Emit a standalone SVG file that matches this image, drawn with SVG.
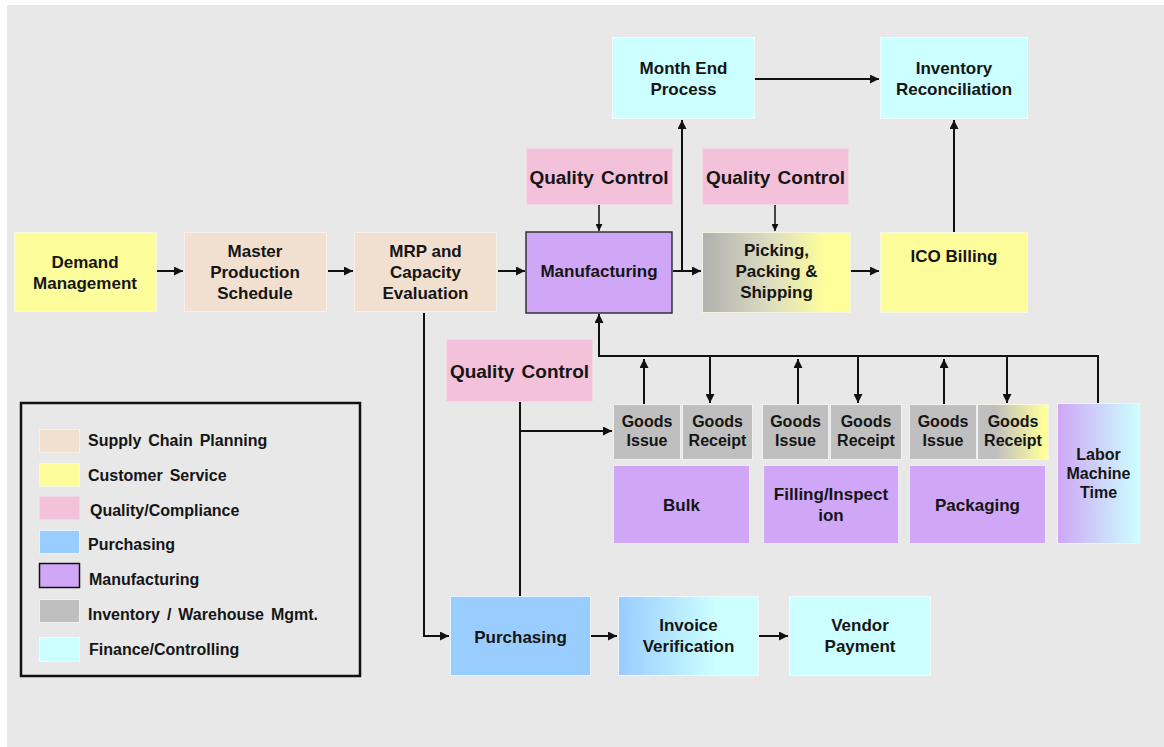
<svg xmlns="http://www.w3.org/2000/svg" width="1164" height="747" viewBox="0 0 1164 747">
<style>
text{font-family:"Liberation Sans",Arial,sans-serif;font-weight:bold;fill:#151515;text-anchor:middle}
.t17{font-size:17px}
.t19{font-size:19px;word-spacing:2px}
.t16{font-size:16px}
.lg{font-size:16px;text-anchor:start;word-spacing:2.5px}
.tan{fill:#f1dfcf;stroke:#f7f1ea;stroke-width:1}
.yel{fill:#fdfd9c;stroke:#f8f8e0;stroke-width:1}
.pink{fill:#f4c1da;stroke:#f0d8e4;stroke-width:1}
.blue{fill:#99ccff;stroke:#e8f2fc;stroke-width:1}
.purp{fill:#d0a7f7;stroke:#f0e6fa;stroke-width:1}
.gray{fill:#bfbfbf;stroke:#f0f0f0;stroke-width:1}
.cyan{fill:#ccffff;stroke:#f0fcfc;stroke-width:1}
.conn path{fill:none;stroke:#111;stroke-width:2}
.conn path.thin{stroke-width:1.5}
</style>
<defs>
<marker id="ah" viewBox="0 0 10 10" refX="10" refY="5" markerWidth="10" markerHeight="9" markerUnits="userSpaceOnUse" orient="auto"><path d="M0,0 L10,5 L0,10 z" fill="#111"/></marker>
<marker id="as" viewBox="0 0 10 10" refX="10" refY="5" markerWidth="8" markerHeight="7" markerUnits="userSpaceOnUse" orient="auto"><path d="M0,0 L10,5 L0,10 z" fill="#111"/></marker>
<linearGradient id="gPick" x1="0" y1="0" x2="1" y2="0"><stop offset="0" stop-color="#b0b0b0"/><stop offset="0.45" stop-color="#dcdcc0"/><stop offset="0.85" stop-color="#ffff99"/></linearGradient>
<linearGradient id="gGR" x1="0" y1="0" x2="1" y2="0"><stop offset="0.25" stop-color="#bfbfbf"/><stop offset="0.95" stop-color="#ffff99"/></linearGradient>
<linearGradient id="gLab" x1="0" y1="0" x2="1" y2="0"><stop offset="0" stop-color="#cfa6f6"/><stop offset="1" stop-color="#ccffff"/></linearGradient>
<linearGradient id="gInv" x1="0" y1="0" x2="1" y2="0"><stop offset="0" stop-color="#99ccff"/><stop offset="0.7" stop-color="#ccffff"/></linearGradient>
</defs>
<rect x="0" y="0" width="1164" height="747" fill="#ffffff"/>
<rect x="7" y="5" width="1157" height="742" fill="#e8e8e8"/>

<g id="connectors" class="conn">
<path d="M157,271 H183" marker-end="url(#ah)"/>
<path d="M328,271 H353" marker-end="url(#ah)"/>
<path d="M498,271 H525" marker-end="url(#ah)"/>
<path d="M673,271 H701" marker-end="url(#ah)"/>
<path d="M682,271 V120" marker-end="url(#ah)"/>
<path d="M755,79 H879" marker-end="url(#ah)"/>
<path d="M851,271 H879" marker-end="url(#ah)"/>
<path d="M954,232 V120" marker-end="url(#ah)"/>
<path class="thin" d="M599,205 V231" marker-end="url(#as)"/>
<path class="thin" d="M775,205 V231" marker-end="url(#as)"/>
<path d="M424,313 V636 H449" marker-end="url(#ah)"/>
<path d="M1098,403 V356 H599 V314" marker-end="url(#ah)"/>
<path d="M644,404 V359" marker-end="url(#ah)"/>
<path d="M710,356 V403" marker-end="url(#ah)"/>
<path d="M798,404 V359" marker-end="url(#ah)"/>
<path d="M858,356 V403" marker-end="url(#ah)"/>
<path d="M944,404 V359" marker-end="url(#ah)"/>
<path d="M1007,356 V403" marker-end="url(#ah)"/>
<path d="M520,402 V596"/>
<path d="M520,431 H612" marker-end="url(#ah)"/>
<path d="M591,636 H617" marker-end="url(#ah)"/>
<path d="M759,636 H788" marker-end="url(#ah)"/>
</g>

<g id="demand"><rect class="yel" x="14.5" y="232.5" width="142" height="79"/><text class="t17" x="85" y="268">Demand</text><text class="t17" x="85" y="289">Management</text></g>
<g id="mps"><rect class="tan" x="184.5" y="232.5" width="142" height="79"/><text class="t17" x="255" y="257">Master</text><text class="t17" x="255" y="278">Production</text><text class="t17" x="255" y="299">Schedule</text></g>
<g id="mrp"><rect class="tan" x="354.5" y="232.5" width="142" height="79"/><text class="t17" x="425.5" y="257">MRP and</text><text class="t17" x="425.5" y="278">Capacity</text><text class="t17" x="425.5" y="299">Evaluation</text></g>
<g id="manufacturing"><rect x="526" y="232" width="146" height="81" fill="#d0a7f7" stroke="#333" stroke-width="1.5"/><text class="t17" x="599" y="277">Manufacturing</text></g>
<g id="qc1"><rect class="pink" x="526.5" y="148.5" width="146" height="56"/><text class="t19" x="599" y="184">Quality Control</text></g>
<g id="qc2"><rect class="pink" x="702.5" y="148.5" width="146" height="56"/><text class="t19" x="775.5" y="184">Quality Control</text></g>
<g id="picking"><rect x="702.5" y="232.5" width="148" height="80" fill="url(#gPick)" stroke="#f4f4e4" stroke-width="1"/><text class="t17" x="776.5" y="256">Picking,</text><text class="t17" x="776.5" y="277">Packing &amp;</text><text class="t17" x="776.5" y="298">Shipping</text></g>
<g id="ico"><rect class="yel" x="880.5" y="232.5" width="147" height="80"/><text class="t17" x="954" y="262">ICO Billing</text></g>
<g id="monthend"><rect class="cyan" x="612.5" y="37.5" width="142" height="81"/><text class="t17" x="683.5" y="74">Month End</text><text class="t17" x="683.5" y="95">Process</text></g>
<g id="invrec"><rect class="cyan" x="880.5" y="37.5" width="147" height="81"/><text class="t17" x="954" y="74">Inventory</text><text class="t17" x="954" y="95">Reconciliation</text></g>
<g id="qc3"><rect class="pink" x="446.5" y="339.5" width="146" height="62"/><text class="t19" x="519.5" y="378">Quality Control</text></g>

<g id="bulk-gi"><rect class="gray" x="613.5" y="404.5" width="67" height="55"/><text class="t16" x="647" y="427">Goods</text><text class="t16" x="647" y="446">Issue</text></g>
<g id="bulk-gr"><rect class="gray" x="682.5" y="404.5" width="70" height="55"/><text class="t16" x="717.5" y="427">Goods</text><text class="t16" x="717.5" y="446">Receipt</text></g>
<g id="fill-gi"><rect class="gray" x="762.5" y="404.5" width="66" height="55"/><text class="t16" x="795.5" y="427">Goods</text><text class="t16" x="795.5" y="446">Issue</text></g>
<g id="fill-gr"><rect class="gray" x="830.5" y="404.5" width="71" height="55"/><text class="t16" x="866" y="427">Goods</text><text class="t16" x="866" y="446">Receipt</text></g>
<g id="pack-gi"><rect class="gray" x="909.5" y="404.5" width="67" height="55"/><text class="t16" x="943" y="427">Goods</text><text class="t16" x="943" y="446">Issue</text></g>
<g id="pack-gr"><rect x="977.5" y="404.5" width="71" height="55" fill="url(#gGR)" stroke="#f4f4e4" stroke-width="1"/><text class="t16" x="1013" y="427">Goods</text><text class="t16" x="1013" y="446">Receipt</text></g>
<g id="labor"><rect x="1057.5" y="403.5" width="82" height="140" fill="url(#gLab)" stroke="#f0f4fa" stroke-width="1"/><text class="t16" x="1098.5" y="460">Labor</text><text class="t16" x="1098.5" y="479">Machine</text><text class="t16" x="1098.5" y="498">Time</text></g>
<g id="bulk"><rect class="purp" x="613.5" y="465.5" width="136" height="78"/><text class="t17" x="681.5" y="511">Bulk</text></g>
<g id="filling"><rect class="purp" x="763.5" y="465.5" width="135" height="78"/><text class="t17" x="831" y="500">Filling/Inspect</text><text class="t17" x="831" y="521">ion</text></g>
<g id="packaging"><rect class="purp" x="909.5" y="465.5" width="136" height="78"/><text class="t17" x="977.5" y="511">Packaging</text></g>

<g id="purchasing"><rect class="blue" x="450.5" y="596.5" width="140" height="79"/><text class="t17" x="520.5" y="643">Purchasing</text></g>
<g id="invoice"><rect x="618.5" y="596.5" width="140" height="79" fill="url(#gInv)" stroke="#eef6fc" stroke-width="1"/><text class="t17" x="688.5" y="631">Invoice</text><text class="t17" x="688.5" y="652">Verification</text></g>
<g id="vendor"><rect class="cyan" x="789.5" y="596.5" width="141" height="79"/><text class="t17" x="860" y="631">Vendor</text><text class="t17" x="860" y="652">Payment</text></g>

<g id="legend">
<rect x="21" y="403" width="339" height="273" fill="none" stroke="#111" stroke-width="2.5"/>
<rect class="tan" x="39.5" y="429.5" width="40" height="23"/><text class="lg" x="88" y="446">Supply Chain Planning</text>
<rect class="yel" x="39.5" y="463.5" width="40" height="23"/><text class="lg" x="88" y="481">Customer Service</text>
<rect class="pink" x="39.5" y="496.5" width="40" height="23"/><text class="lg" x="90" y="516">Quality/Compliance</text>
<rect class="blue" x="39.5" y="530.5" width="40" height="23"/><text class="lg" x="88" y="550">Purchasing</text>
<rect x="39.5" y="563.5" width="40" height="24" fill="#d0a7f7" stroke="#111" stroke-width="1.5"/><text class="lg" x="89" y="585">Manufacturing</text>
<rect class="gray" x="39.5" y="599.5" width="40" height="23"/><text class="lg" x="88" y="620">Inventory / Warehouse Mgmt.</text>
<rect class="cyan" x="39.5" y="637.5" width="40" height="24"/><text class="lg" x="89" y="655">Finance/Controlling</text>
</g>
</svg>
